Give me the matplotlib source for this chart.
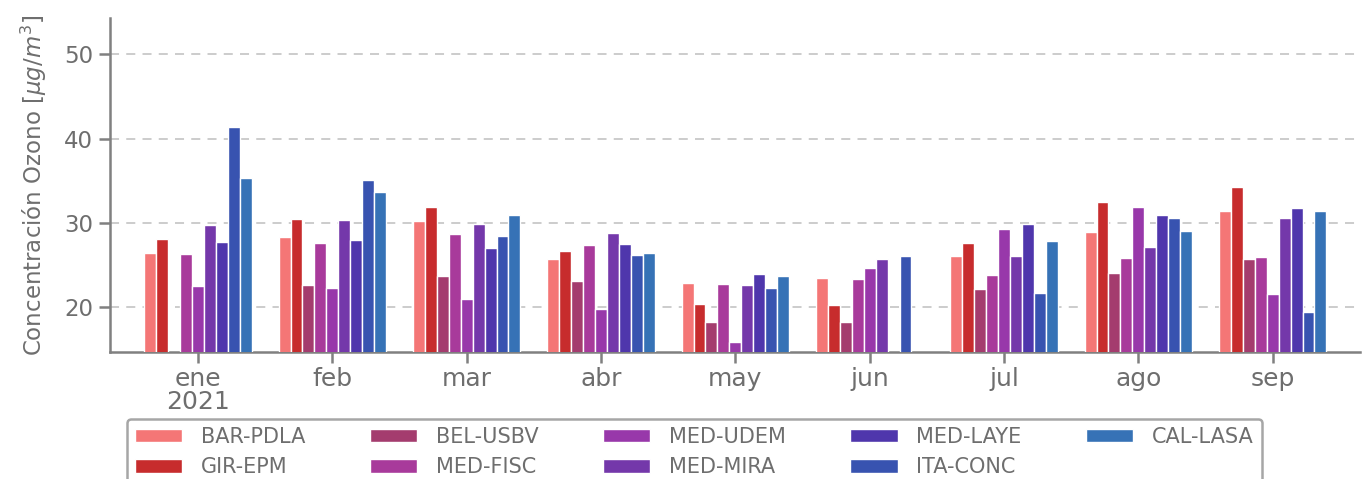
import numpy as np
import matplotlib
matplotlib.use("Agg")
import matplotlib.pyplot as plt

months = ["ene\n2021", "feb", "mar", "abr", "may", "jun", "jul", "ago", "sep"]
stations = ["BAR-PDLA", "GIR-EPM", "BEL-USBV", "MED-FISC", "MED-UDEM",
            "MED-MIRA", "MED-LAYE", "ITA-CONC", "CAL-LASA"]
colors = ["#F47676", "#C72C2D", "#A43C6E", "#A83A9B", "#9838AA",
          "#7438AA", "#4F36AC", "#3853B0", "#3672B6"]

nan = np.nan
bar_pdla = [26.40, 28.26, 30.20, 25.65, 22.85, 23.48, 26.05, 28.85, 31.34]
gir_epm  = [28.06, 30.40, 31.82, 26.64, 20.36, 20.24, 27.63, 32.41, 34.27]
bel_usbv = [nan,   22.61, 23.64, 23.12, 18.22, 18.22, 22.09, 24.03, 25.73]
med_fisc = [26.32, 27.63, 28.66, 27.31, 22.77, 23.36, 23.83, 25.85, 25.93]
med_udem = [22.45, 22.25, 20.91, 19.72, 15.89, 24.58, 29.21, 31.86, 21.58]
med_mira = [29.68, 30.28, 29.84, 28.81, 22.61, 25.69, 26.05, 27.11, 30.55]
med_laye = [27.67, 27.98, 27.00, 27.47, 23.87, nan,   29.80, 30.91, 31.74]
ita_conc = [41.34, 35.06, 28.38, 26.17, 22.21, 26.09, 21.66, 30.55, 19.41]
cal_lasa = [35.26, 33.68, 30.91, 26.36, 23.64, nan,   27.83, 29.05, 31.42]

series = [bar_pdla, gir_epm, bel_usbv, med_fisc, med_udem,
          med_mira, med_laye, ita_conc, cal_lasa]

gray = "#6e6e6e"
fig = plt.figure(figsize=(13.66, 4.79), dpi=100)
ax = fig.add_axes([110/1366, 1-351.7/479, (1360-110)/1366, (351.7-18)/479])

x = np.arange(len(months))
n = len(series)
w = 0.8 / n
for j, (vals, name, c) in enumerate(zip(series, stations, colors)):
    pos = x - 0.4 + w/2 + j*w
    ax.bar(pos, vals, width=w, color=c, edgecolor="white", linewidth=1.0,
           label=name, zorder=3)

ax.set_xlim(-0.655, 8.65)
ax.set_ylim(14.7, 54.3)
ax.set_yticks([20, 30, 40, 50])
ax.set_xticks(x)
ax.set_xticklabels(months)
ax.yaxis.grid(True, linestyle=(0, (5, 4)), color="#c8c8c8", linewidth=1.3, zorder=0)
ax.set_axisbelow(True)
for s in ["top", "right"]:
    ax.spines[s].set_visible(False)
for s in ["left", "bottom"]:
    ax.spines[s].set_color("#808080")
    ax.spines[s].set_linewidth(1.8)
ax.tick_params(axis="both", colors="#808080", length=8, width=1.8,
               labelcolor=gray)
ax.tick_params(axis="x", labelsize=18, pad=3)
ax.tick_params(axis="y", labelsize=16.5, pad=4)
for t in ax.get_xticklabels():
    t.set_linespacing(0.95)
ax.set_ylabel("Concentración Ozono [$\\mu g/m^3$]", fontsize=16.5, color=gray,
              labelpad=11)

leg = fig.legend(loc="upper left", bbox_to_anchor=(127/1366, 1-418.5/479),
                 ncol=5, fontsize=15, frameon=True, handlelength=2.26,
                 handleheight=0.6, columnspacing=3.1, labelspacing=0.5,
                 handletextpad=0.9, borderpad=0.4, borderaxespad=0.0,
                 fancybox=True)
leg.get_frame().set_edgecolor("#909090")
leg.get_frame().set_linewidth(1.8)
for t in leg.get_texts():
    t.set_color(gray)

fig.savefig("out.png", dpi=100)
